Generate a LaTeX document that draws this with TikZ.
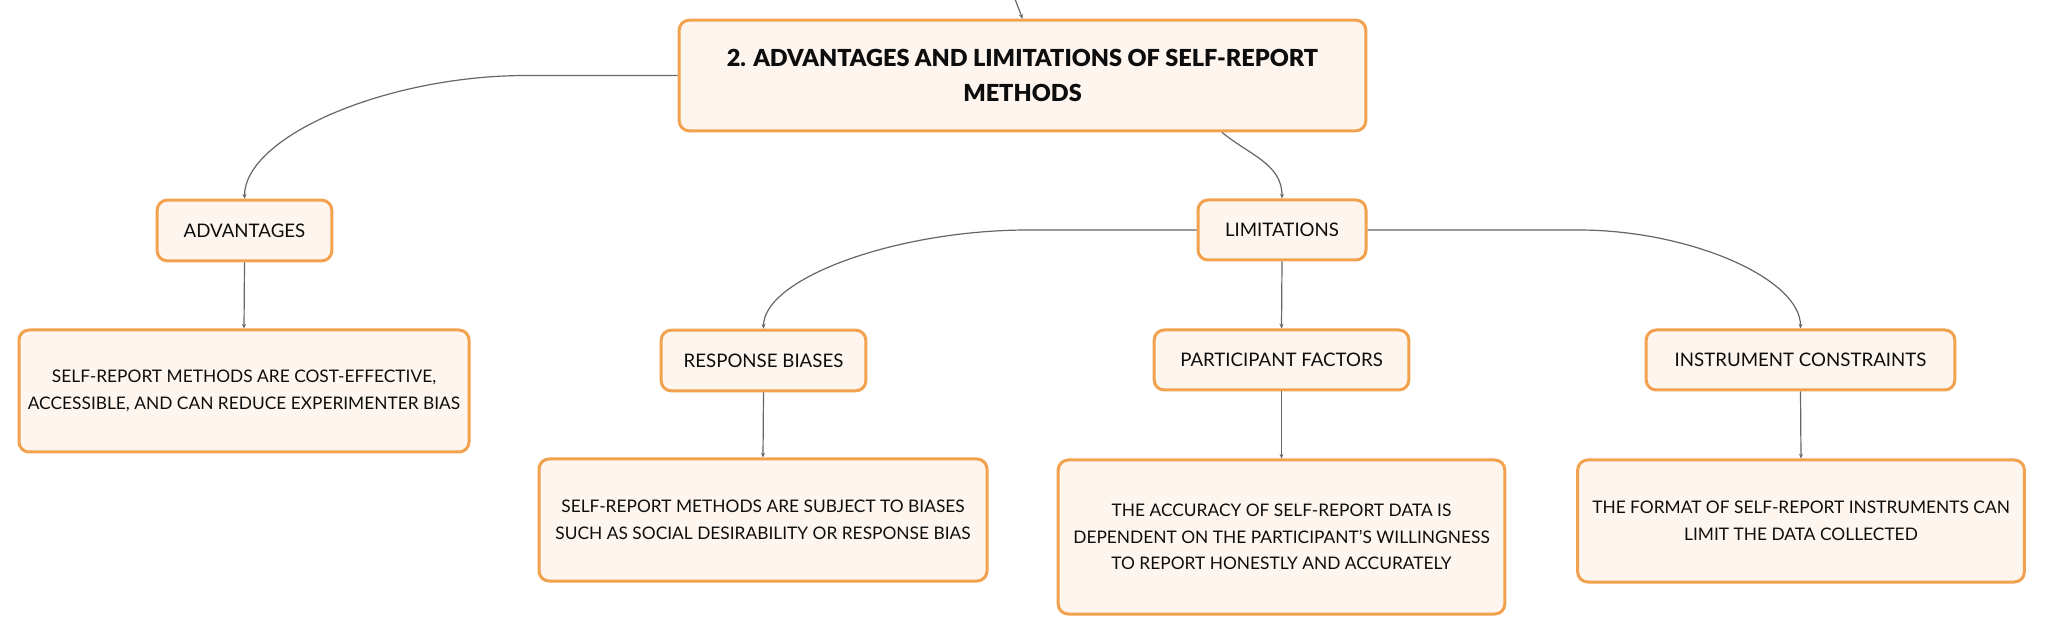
\documentclass[tikz,border=0pt]{standalone}
\usepackage{fontspec}
\setmainfont{Lato}
\newfontfamily\titlefont{Lato Black}
\usetikzlibrary{arrows.meta,calc}
\definecolor{boxborder}{HTML}{F2A24F}
\definecolor{boxfill}{HTML}{FEF6EE}
\definecolor{linegray}{HTML}{666666}
\begin{document}
\begin{tikzpicture}[x=0.75pt,y=-0.75pt,
  box/.style={draw=boxborder,fill=boxfill,line width=2.25pt,rounded corners=7.5pt,
    align=center,inner sep=0pt,text=black!95},
  titlebox/.style={box,font=\fontsize{17.6}{26.5}\selectfont\titlefont},
  labelbox/.style={box,font=\fontsize{14}{20}\selectfont},
  descbox/.style={box,font=\fontsize{13}{20}\selectfont},
  conn/.style={draw=linegray,line width=0.9pt,-{Stealth[length=3.5pt,width=3pt]}}]
\useasboundingbox (0,0) rectangle (2046,634);
% nodes
\node[titlebox,minimum width=515pt,minimum height=83pt] (title) at (1022.5,75.5)
  {2. ADVANTAGES AND LIMITATIONS OF SELF-REPORT\\METHODS};
\node[labelbox,minimum width=131pt,minimum height=45.5pt] (adv) at (244.5,230.5) {ADVANTAGES};
\node[descbox,minimum width=337.5pt,minimum height=91.5pt] (advdesc) at (244,391)
  {SELF-REPORT METHODS ARE COST-EFFECTIVE,\\ACCESSIBLE, AND CAN REDUCE EXPERIMENTER BIAS};
\node[labelbox,minimum width=126pt,minimum height=45pt] (lim) at (1282,230) {LIMITATIONS};
\node[labelbox,minimum width=153.5pt,minimum height=45.5pt] (resp) at (763.5,360.5) {RESPONSE BIASES};
\node[labelbox,minimum width=191pt,minimum height=45pt] (part) at (1281.5,360) {PARTICIPANT FACTORS};
\node[labelbox,minimum width=231.5pt,minimum height=45pt] (inst) at (1800.5,360) {INSTRUMENT CONSTRAINTS};
\node[descbox,minimum width=336pt,minimum height=91.5pt] (respdesc) at (763,520)
  {SELF-REPORT METHODS ARE SUBJECT TO BIASES\\SUCH AS SOCIAL DESIRABILITY OR RESPONSE BIAS};
\node[descbox,minimum width=335pt,minimum height=115.5pt] (partdesc) at (1281.5,537)
  {THE ACCURACY OF SELF-REPORT DATA IS\\DEPENDENT ON THE PARTICIPANT'S WILLINGNESS\\TO REPORT HONESTLY AND ACCURATELY};
\node[descbox,minimum width=335pt,minimum height=91.5pt] (instdesc) at (1801,521)
  {THE FORMAT OF SELF-REPORT INSTRUMENTS CAN\\LIMIT THE DATA COLLECTED};
\coordinate (top) at (1013,-6);
% connectors
\draw[conn] (top) -- (title.north);
\draw[conn] (title.west) -- ++(-151,0) .. controls +(-141,0) and +(0,-62) .. (adv.north);
\draw[conn] ($(title.south)+(199.5,0)$) to[out=-40,in=90] (lim.north);
\draw[conn] (adv.south) -- (advdesc.north);
\draw[conn] (lim.west) -- ++(-168,0) .. controls +(-133,0) and +(0,-50) .. (resp.north);
\draw[conn] (lim.south) -- (part.north);
\draw[conn] (lim.east) -- ++(211,0) .. controls +(111,0) and +(0,-50) .. (inst.north);
\draw[conn] (resp.south) -- (respdesc.north);
\draw[conn] (part.south) -- (partdesc.north);
\draw[conn] (inst.south) -- (instdesc.north);
\end{tikzpicture}
\end{document}
